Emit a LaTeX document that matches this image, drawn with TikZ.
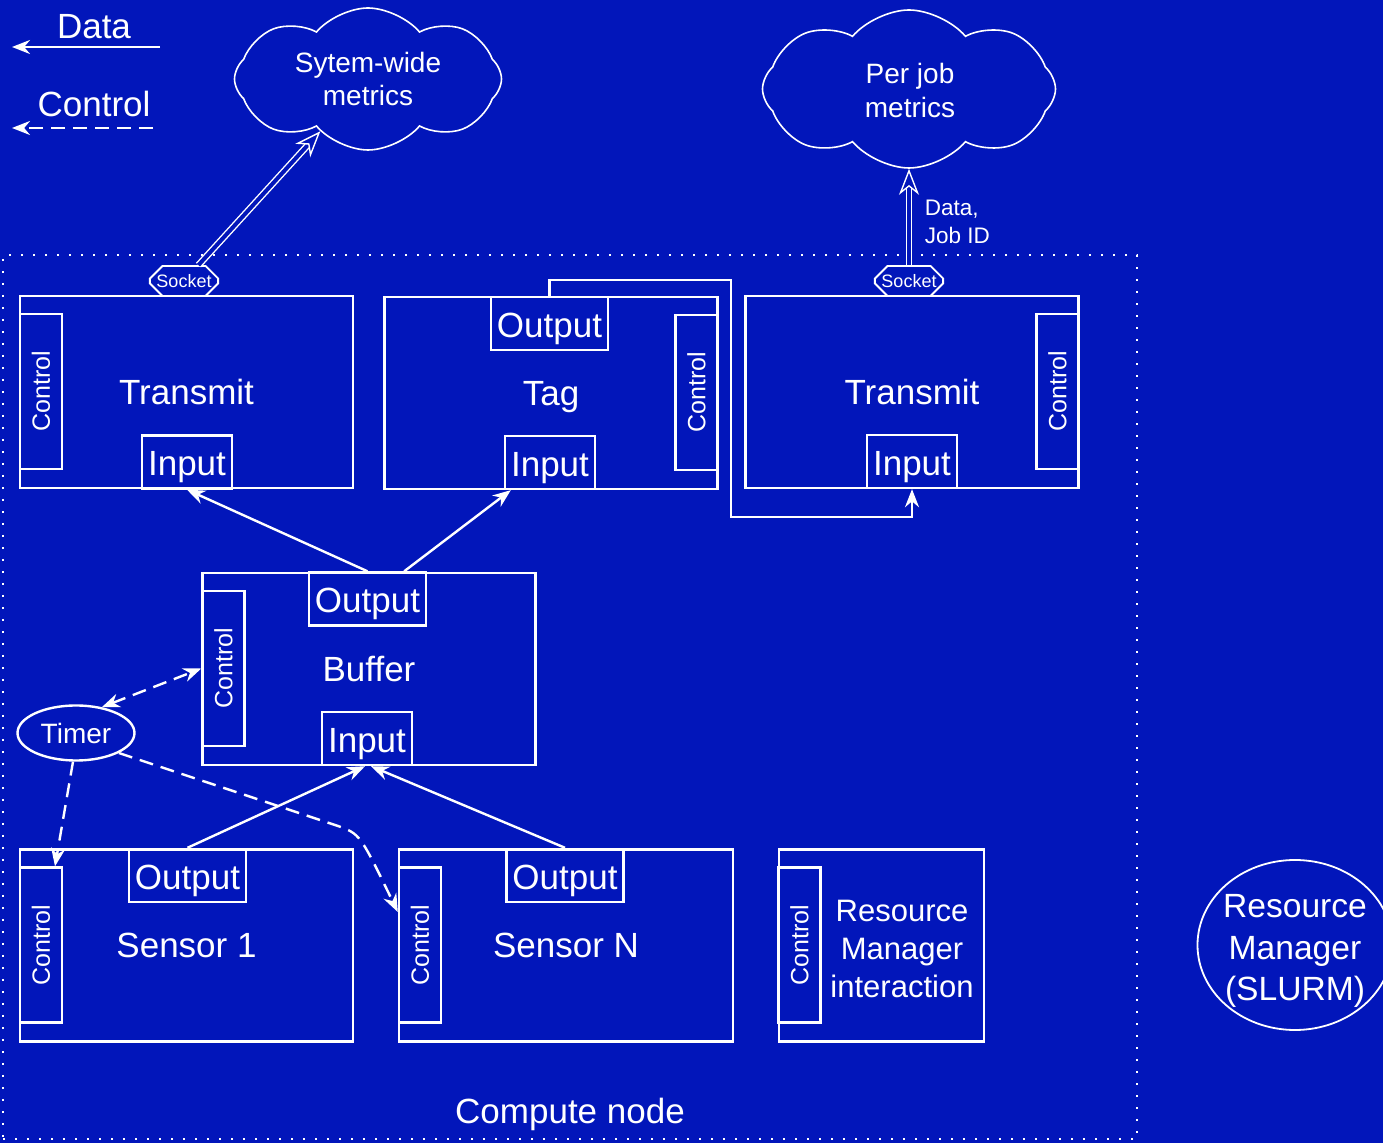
\documentclass[tikz,border=0pt]{standalone}
\usepackage{fontspec}
\setmainfont{Liberation Sans}
\usetikzlibrary{arrows.meta,shapes.geometric,shapes.misc,shapes.symbols}
\definecolor{bgblue}{RGB}{2,22,186}

\tikzset{
  block/.style={draw, inner sep=0pt, minimum width=166.5pt, minimum height=96pt, text depth=0pt,
    font=\fontsize{17.5}{21}\selectfont},
  outport/.style={draw, inner sep=0pt, minimum width=58.5pt, minimum height=26.5pt, text height=14pt, text depth=0pt,
    font=\fontsize{17.5}{21}\selectfont},
  inport/.style={outport, minimum width=45pt},
  ctrlbox/.style={draw, rotate=90, inner sep=0pt, minimum width=77.5pt, minimum height=21pt, font=\fontsize{12.5}{15}\selectfont},
  socketbox/.style={draw, chamfered rectangle, chamfered rectangle xsep=6pt, chamfered rectangle ysep=3pt,
    inner sep=0pt, minimum width=31pt, minimum height=15pt, line width=0.9pt, font=\fontsize{9}{10}\selectfont},
  metrics/.style={draw, cloud, cloud puffs=8, cloud puff arc=100, cloud ignores aspect, line width=0.8pt, inner sep=0pt},
  cloudtext/.style={align=center, font=\fontsize{14}{17}\selectfont},
  data/.style={-{Stealth[length=9pt,width=7pt]}},
  ctrl/.style={dash pattern=on 7pt off 4pt, -{Stealth[length=9pt,width=7pt]}},
  link/.style={double=bgblue, double distance=2pt, line width=0.7pt,
    -{Stealth[open, fill=bgblue, length=13pt, width=10pt, inset=4pt]}},
}

\begin{document}
\begin{tikzpicture}[x=0.5pt, y=-0.5pt, color=white, line width=1.2pt]
\fill[bgblue] (0,0) rectangle (1383,1143);
\useasboundingbox (0,0) rectangle (1383,1143);

% legend
\node[font=\fontsize{17.5}{21}\selectfont] (legdata) at (94,27) {Data};
\coordinate (legdatafrom) at (160,47);
\coordinate (legdatato) at (12,47);
\draw[data] (legdatafrom) -- (legdatato);
\node[font=\fontsize{17.5}{21}\selectfont] (legctrl) at (94,104) {Control};
\coordinate (legctrlfrom) at (153,128);
\coordinate (legctrlto) at (12,128);
\draw[ctrl] (legctrlfrom) -- (legctrlto);

% compute node frame
\node[draw, line width=1.2pt, dash pattern=on 1.2pt off 4.8pt, inner sep=0pt,
  minimum width=567pt, minimum height=442pt] (compute) at (570,697) {};
\node[font=\fontsize{17.5}{21}\selectfont] (computelabel) at (570,1114) {Compute node};

% clouds
\node[metrics, minimum width=133.5pt, minimum height=71pt] (cloudsys) at (368,79) {};
\node[cloudtext] at (cloudsys) {Sytem-wide\\metrics};
\node[metrics, minimum width=146.5pt, minimum height=79pt] (cloudjob) at (909,89) {};
\node[cloudtext] at (910,91) {Per job\\metrics};

% transmit (system-wide)
\node[block] (transsys) at (186.5,392) {Transmit};
\node[ctrlbox] (transsysctl) at (41,391.5) {Control};
\node[inport] (transsysin) at (187,462) {Input};
\node[socketbox] (socksys) at (184,281) {Socket};

% tag
\node[block] (tag) at (551,393) {Tag};
\node[outport] (tagout) at (549.5,323.5) {Output};
\node[ctrlbox] (tagctl) at (696.5,392.5) {Control};
\node[inport] (tagin) at (550,462.5) {Input};

% transmit (per job)
\node[block] (transjob) at (912,392) {Transmit};
\node[ctrlbox] (transjobctl) at (1057.5,391.5) {Control};
\node[inport] (transjobin) at (912,461.5) {Input};
\node[socketbox] (sockjob) at (909,281) {Socket};

% buffer
\node[block] (buffer) at (369,669) {Buffer};
\node[outport] (bufout) at (367.5,599) {Output};
\node[ctrlbox] (bufctl) at (223.5,668.5) {Control};
\node[inport] (bufin) at (367,738.5) {Input};

% timer
\node[draw, ellipse, inner sep=0pt, minimum width=58.5pt, minimum height=27.5pt,
  font=\fontsize{14}{17}\selectfont] (timer) at (76,733) {Timer};

% sensors
\node[block] (sensorone) at (186.5,945.5) {Sensor 1};
\node[outport] (sensoroneout) at (187.5,875.5) {Output};
\node[ctrlbox] (sensoronectl) at (41,945) {Control};
\node[block, minimum width=167pt] (sensorn) at (566,945.5) {Sensor N};
\node[outport] (sensornout) at (565,875.5) {Output};
\node[ctrlbox] (sensornctl) at (420,945) {Control};

% resource manager interaction
\node[block, minimum width=102.5pt] (rmi) at (881.5,945.5) {};
\node[ctrlbox] (rmictl) at (799.5,945) {Control};
\node[align=center, font=\fontsize{15.5}{19}\selectfont] (rmitext) at (902,949) {Resource\\Manager\\interaction};

% resource manager
\node[draw, ellipse, line width=0.9pt, inner sep=0pt, minimum width=97.5pt, minimum height=85pt] (slurm) at (1295,945) {};
\node[align=center, font=\fontsize{16.8}{20.75}\selectfont] (slurmtext) at (1295,951) {Resource\\Manager\\(SLURM)};

% data flow
\draw[data] (bufout.north) -- (transsysin.south);
\draw[data] ([xshift=-11.5pt]bufout.north east) -- ([xshift=3.5pt]tagin.south west);
\draw[data] (sensoroneout.north) -- ([xshift=-1pt]bufin.south);
\draw[data] (sensornout.north) -- ([xshift=2pt]bufin.south);
\coordinate (tagup) at (731,280);
\coordinate (tagdown) at (731,517);
\draw[data] (tagout.north) |- (tagup) -- (tagdown) -| (transjobin.south);

% sockets to clouds
\draw[link] (socksys) -- (cloudsys);
\draw[link] (sockjob.north) -- (cloudjob.south);
\node[align=left, anchor=west, font=\fontsize{11.25}{14}\selectfont] (jobid) at (917,222) {Data,\\Job ID};

% control flow
\draw[ctrl, {Stealth[length=9pt,width=7pt]}-{Stealth[length=9pt,width=7pt]}] (timer.45) -- (bufctl.north);
\draw[ctrl] ([xshift=-1.5pt]timer.south) -- ([xshift=7pt]sensoronectl.east);
\coordinate (bend) at (338,826);
\draw[ctrl] (timer.-25) -- (bend) .. controls (360,834) .. ([yshift=16.5pt]sensornctl.north);
\end{tikzpicture}
\end{document}
